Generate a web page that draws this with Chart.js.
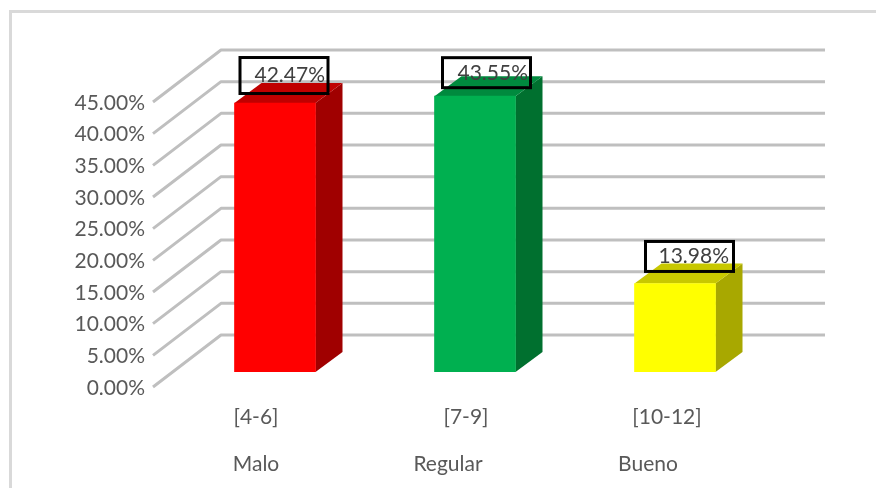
<!DOCTYPE html>
<html>
<head>
<meta charset="utf-8">
<script src="https://cdn.jsdelivr.net/npm/chart.js@4"></script>
<style>
  html, body { margin: 0; padding: 0; background: #fff; overflow: hidden; }
  #wrap { position: relative; width: 876px; height: 488px; overflow: hidden; }
  #frame { position: absolute; left: 9px; top: 10px; width: 880px; height: 500px; border: 3px solid #d9d9d9; }
  canvas { position: absolute; left: 0; top: 0; }
</style>
</head>
<body>
<div id="wrap">
  <div id="frame"></div>
  <canvas id="barChart" width="876" height="488"></canvas>
</div>
<script>
// datos del gráfico
const categories = ['[4-6]', '[7-9]', '[10-12]'];
const levels = ['Malo', 'Regular', 'Bueno'];
const percentages = [42.47, 43.55, 13.98];
const yTicks = [0, 5, 10, 15, 20, 25, 30, 35, 40, 45];

// colores de cada barra: frente, lado, tapa
const frontColors = ['#ff0000', '#00b050', '#ffff00'];
const sideColors = ['#a00000', '#00702f', '#a8a800'];
const topColors = ['#c00000', '#008a3e', '#c8c800'];

const textColor = '#595959';
const fontFamily = 'Lato, "Open Sans", sans-serif';
const fontSize = 21;

// profundidad del efecto 3D
const BAR_LIFT = 15;
const DEPTH_X = 27;
const DEPTH_Y = 20;
const WALL_X = 46;
const WALL_Y = 52;
const WALL_RIGHT = 50;
const FLOOR_LEFT = 22;

// desplazamiento de las etiquetas de texto respecto a cada barra
const rangeLabelShift = [-19, -9, -8];
const levelLabelShift = [-19, -27, -27];
const boxShift = [
  { dx: -35, top: -45.5, bottom: -9.5, textX: 50, textY: -28 },
  { dx: -32.5, top: -38.5, bottom: -8.5, textX: 53, textY: -23 },
  { dx: -29.5, top: -42, bottom: -12, textX: 54, textY: -27.5 }
];

// rejilla con la pared del fondo y el piso en diagonal
const wallGrid = {
  id: 'wallGrid',
  beforeDatasetsDraw(chart) {
    const { ctx, scales, chartArea } = chart;
    ctx.save();
    ctx.strokeStyle = '#bfbfbf';
    ctx.lineWidth = 3;
    ctx.lineJoin = 'round';
    yTicks.forEach(t => {
      const y = scales.y.getPixelForValue(t);
      ctx.beginPath();
      ctx.moveTo(chartArea.left - FLOOR_LEFT, y);
      ctx.lineTo(chartArea.left + WALL_X, y - WALL_Y);
      ctx.lineTo(chartArea.right + WALL_RIGHT, y - WALL_Y);
      ctx.stroke();
    });
    ctx.restore();
  }
};

// caras lateral y superior; las barras se dibujan un poco más arriba del eje
const barFaces = {
  id: 'barFaces',
  beforeDatasetsDraw(chart) {
    const { ctx } = chart;
    const bars = chart.getDatasetMeta(0).data;
    ctx.save();
    ctx.translate(0, -BAR_LIFT);
    bars.forEach((bar, i) => {
      const left = bar.x - bar.width / 2;
      const right = bar.x + bar.width / 2;
      ctx.fillStyle = sideColors[i];
      ctx.beginPath();
      ctx.moveTo(right, bar.y);
      ctx.lineTo(right + DEPTH_X, bar.y - DEPTH_Y);
      ctx.lineTo(right + DEPTH_X, bar.base - DEPTH_Y);
      ctx.lineTo(right, bar.base);
      ctx.closePath();
      ctx.fill();
      ctx.fillStyle = topColors[i];
      ctx.beginPath();
      ctx.moveTo(left, bar.y);
      ctx.lineTo(left + DEPTH_X, bar.y - DEPTH_Y);
      ctx.lineTo(right + DEPTH_X, bar.y - DEPTH_Y);
      ctx.lineTo(right, bar.y);
      ctx.closePath();
      ctx.fill();
    });
  },
  afterDatasetsDraw(chart) {
    chart.ctx.restore();
  }
};

// etiquetas de valor en recuadro y textos bajo las barras
const barLabels = {
  id: 'barLabels',
  afterDraw(chart) {
    const { ctx } = chart;
    const bars = chart.getDatasetMeta(0).data;
    ctx.save();
    bars.forEach((bar, i) => {
      const barTop = bar.y - BAR_LIFT;
      const box = boxShift[i];
      const boxLeft = bar.x + box.dx;
      const boxTop = barTop + box.top;
      const boxBottom = barTop + box.bottom;

      ctx.font = fontSize + 'px ' + fontFamily;
      ctx.fillStyle = '#404040';
      ctx.textAlign = 'right';
      ctx.textBaseline = 'middle';
      ctx.fillText(percentages[i].toFixed(2) + '%', bar.x + box.textX, barTop + box.textY);

      ctx.strokeStyle = '#000';
      ctx.lineWidth = 3;
      ctx.strokeRect(boxLeft, boxTop, 88, boxBottom - boxTop);

      ctx.fillStyle = textColor;
      ctx.textAlign = 'center';
      ctx.fillText(categories[i], bar.x + rangeLabelShift[i], 417);
      ctx.fillText(levels[i], bar.x + levelLabelShift[i], 464);
    });
    ctx.restore();
  }
};

new Chart(document.getElementById('barChart').getContext('2d'), {
  type: 'bar',
  data: {
    labels: categories,
    datasets: [{
      data: percentages,
      backgroundColor: frontColors,
      borderWidth: 0,
      barThickness: 81
    }]
  },
  options: {
    responsive: false,
    animation: false,
    layout: { padding: { top: 102, right: 101, bottom: 101, left: 0 } },
    plugins: { legend: { display: false }, tooltip: { enabled: false } },
    scales: {
      x: { display: false },
      y: {
        min: 0,
        max: 45,
        afterFit(scale) { scale.width = 175; },
        afterBuildTicks(scale) { scale.ticks = yTicks.map(v => ({ value: v })); },
        grid: { display: false, drawTicks: false },
        border: { display: false },
        ticks: {
          padding: 30,
          labelOffset: 1,
          color: textColor,
          font: { family: fontFamily, size: fontSize },
          callback: v => v.toFixed(2) + '%'
        }
      }
    }
  },
  plugins: [wallGrid, barFaces, barLabels]
});
</script>
</body>
</html>
